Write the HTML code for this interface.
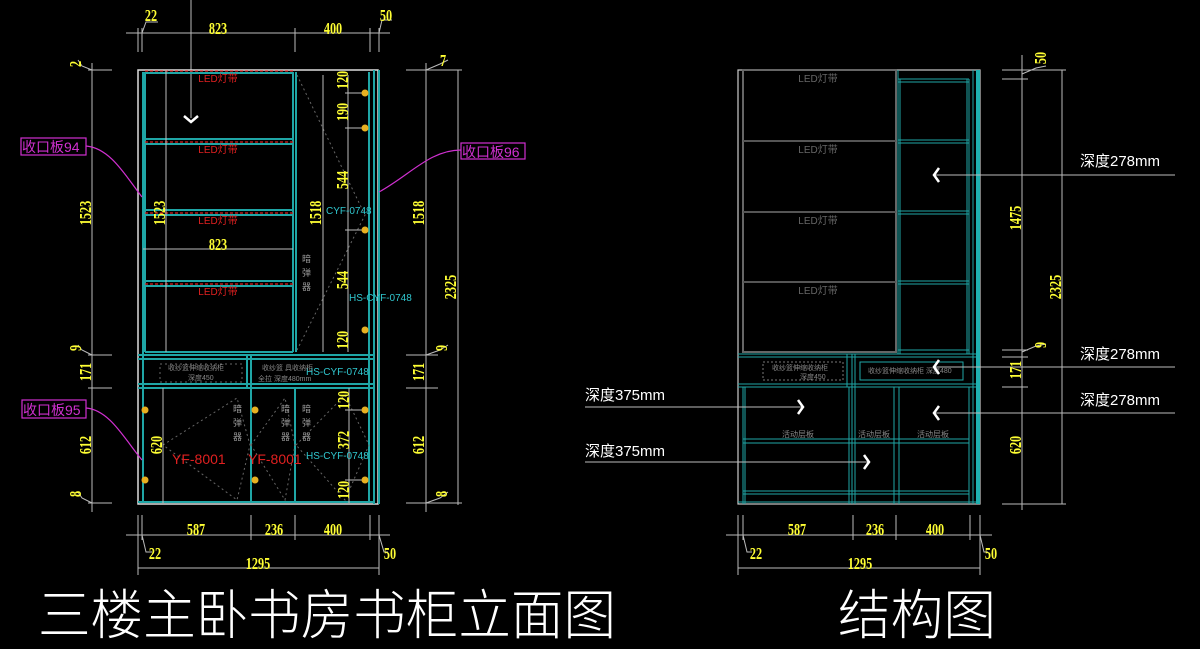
<!DOCTYPE html>
<html><head><meta charset="utf-8"><style>
html,body{margin:0;padding:0;background:#000;width:1200px;height:649px;overflow:hidden}
svg{display:block}
.d{font-family:"Liberation Serif",serif;font-weight:bold;fill:#ffff33;font-size:17px;text-anchor:middle}
.g{stroke:#bbb;stroke-width:1;fill:none}
.t{stroke:#1fa6a6;stroke-width:2;fill:none}
.t1{stroke:#1fa6a6;stroke-width:1;fill:none}
.cn{font-family:"Liberation Sans","Noto Sans CJK SC",sans-serif}
</style></head><body>
<svg width="1200" height="649" viewBox="0 0 1200 649" xmlns="http://www.w3.org/2000/svg">
<!-- ========== LEFT DRAWING ========== -->
<g class="g">
<line x1="126" y1="33" x2="390" y2="33"/>
<line x1="138" y1="28" x2="138" y2="52"/><line x1="142" y1="28" x2="142" y2="52"/>
<line x1="295" y1="28" x2="295" y2="52"/><line x1="370" y1="28" x2="370" y2="52"/><line x1="379" y1="28" x2="379" y2="52"/>
<path d="M142 33 L146 22 L158 22"/><path d="M379 33 L382 20 L392 20"/>
<line x1="191" y1="0" x2="191" y2="118"/>
</g>
<text class="d" transform="translate(151,21) scale(0.72,1)">22</text>
<text class="d" transform="translate(218,34) scale(0.72,1)">823</text>
<text class="d" transform="translate(333,34) scale(0.72,1)">400</text>
<text class="d" transform="translate(386,21) scale(0.72,1)">50</text>
<path d="M184 116 L191 122 L198 116" stroke="#fff" stroke-width="2.5" fill="none"/>
<rect x="138" y="70" width="240" height="434" stroke="#ddd" stroke-width="1.5" fill="none"/>
<g class="t">
<line x1="143" y1="72" x2="143" y2="503"/>
<line x1="145" y1="72" x2="145" y2="352"/>
<line x1="293" y1="72" x2="293" y2="352"/><line x1="296" y1="72" x2="296" y2="352"/>
<line x1="369" y1="72" x2="369" y2="503"/><line x1="374" y1="70" x2="374" y2="504"/><line x1="379" y1="70" x2="379" y2="504"/>
<line x1="145" y1="73" x2="293" y2="73"/>
<line x1="145" y1="139" x2="293" y2="139"/><line x1="145" y1="144" x2="293" y2="144"/>
<line x1="145" y1="210" x2="293" y2="210"/><line x1="145" y1="215" x2="293" y2="215"/>
<line x1="145" y1="281" x2="293" y2="281"/><line x1="145" y1="286" x2="293" y2="286"/>
<line x1="145" y1="352" x2="293" y2="352"/>
<line x1="138" y1="355" x2="374" y2="355"/><line x1="138" y1="359" x2="374" y2="359"/>
<line x1="138" y1="384" x2="374" y2="384"/><line x1="138" y1="388" x2="374" y2="388"/>
<line x1="247" y1="355" x2="247" y2="388"/><line x1="251" y1="355" x2="251" y2="503"/>
<line x1="295" y1="388" x2="295" y2="503"/>
<line x1="138" y1="502" x2="374" y2="502"/>
</g>
<g stroke="#e02020" stroke-width="1.2" stroke-dasharray="3,2">
<line x1="145" y1="71" x2="293" y2="71"/><line x1="145" y1="142" x2="293" y2="142"/><line x1="145" y1="213" x2="293" y2="213"/><line x1="145" y1="284" x2="293" y2="284"/>
</g>
<g class="cn" font-size="10" fill="#e02020" text-anchor="middle">
<text x="218" y="82">LED灯带</text><text x="218" y="153">LED灯带</text><text x="218" y="224">LED灯带</text><text x="218" y="295">LED灯带</text>
</g>
<g stroke="#666" stroke-width="1" stroke-dasharray="2,3" fill="none">
<path d="M297 75 L365 215 L297 350"/>
<path d="M163 445 L237 398 L250 445 L237 500 L163 445"/>
<path d="M251 445 L285 398 L295 445 L285 500 Z"/>
<path d="M296 445 L345 395 L369 445 L345 500 Z"/>
<rect x="160" y="364" width="82" height="18"/>
</g>
<g class="g">
<line x1="166" y1="70" x2="166" y2="352"/>
<line x1="143" y1="249" x2="293" y2="249"/>
<line x1="323" y1="75" x2="323" y2="352"/>
<line x1="348" y1="75" x2="348" y2="352"/>
<line x1="163" y1="388" x2="163" y2="503"/>
<line x1="349" y1="388" x2="349" y2="503"/>
<line x1="345" y1="93" x2="365" y2="93"/><line x1="345" y1="128" x2="365" y2="128"/><line x1="345" y1="230" x2="365" y2="230"/><line x1="345" y1="410" x2="365" y2="410"/><line x1="345" y1="480" x2="365" y2="480"/>
</g>
<g fill="#e8b020">
<circle cx="365" cy="93" r="3.5"/><circle cx="365" cy="128" r="3.5"/><circle cx="365" cy="230" r="3.5"/><circle cx="365" cy="330" r="3.5"/>
<circle cx="145" cy="410" r="3.5"/><circle cx="145" cy="480" r="3.5"/><circle cx="255" cy="410" r="3.5"/><circle cx="255" cy="480" r="3.5"/><circle cx="365" cy="410" r="3.5"/><circle cx="365" cy="480" r="3.5"/>
</g>
<text class="d" transform="translate(165,213) rotate(-90) scale(0.72,1)">1523</text>
<text class="d" transform="translate(218,250) scale(0.72,1)">823</text>
<text class="d" transform="translate(321,213) rotate(-90) scale(0.72,1)">1518</text>
<text class="d" transform="translate(348,80) rotate(-90) scale(0.72,1)">120</text>
<text class="d" transform="translate(348,112) rotate(-90) scale(0.72,1)">190</text>
<text class="d" transform="translate(348,180) rotate(-90) scale(0.72,1)">544</text>
<text class="d" transform="translate(348,280) rotate(-90) scale(0.72,1)">544</text>
<text class="d" transform="translate(348,340) rotate(-90) scale(0.72,1)">120</text>
<text class="d" transform="translate(162,445) rotate(-90) scale(0.72,1)">620</text>
<text class="d" transform="translate(349,400) rotate(-90) scale(0.72,1)">120</text>
<text class="d" transform="translate(349,440) rotate(-90) scale(0.72,1)">372</text>
<text class="d" transform="translate(349,490) rotate(-90) scale(0.72,1)">120</text>
<g class="cn" font-size="10" fill="#30c8d0">
<text x="326" y="214">CYF-0748</text><text x="349" y="301">HS-CYF-0748</text><text x="306" y="375">HS-CYF-0748</text><text x="306" y="459">HS-CYF-0748</text>
</g>
<g class="cn" font-size="7" fill="#888">
<text x="262" y="370">收纱篮 具收纳柜</text><text x="258" y="381">全拉 深度480mm</text>
<text x="168" y="370">收纱篮伸缩收纳柜</text><text x="188" y="380">深度450</text>
</g>
<g class="cn" font-size="9" fill="#999">
<text x="302" y="262">暗</text><text x="302" y="276">弹</text><text x="302" y="290">器</text>
<text x="233" y="412">暗</text><text x="233" y="426">弹</text><text x="233" y="440">器</text>
<text x="281" y="412">暗</text><text x="281" y="426">弹</text><text x="281" y="440">器</text>
<text x="302" y="412">暗</text><text x="302" y="426">弹</text><text x="302" y="440">器</text>
</g>
<g class="cn" font-size="14" fill="#e02020"><text x="172" y="464">YF-8001</text><text x="248" y="464">YF-8001</text></g>
<g class="g">
<line x1="92" y1="63" x2="92" y2="512"/>
<line x1="88" y1="70" x2="112" y2="70"/><line x1="88" y1="355" x2="112" y2="355"/><line x1="88" y1="388" x2="112" y2="388"/><line x1="88" y1="503" x2="112" y2="503"/>
<path d="M92 70 L82 66 L78 60"/><path d="M92 355 L82 350 L78 345"/><path d="M92 503 L82 498 L78 492"/>
<line x1="426" y1="63" x2="426" y2="512"/><line x1="458" y1="70" x2="458" y2="505"/>
<line x1="406" y1="70" x2="462" y2="70"/><line x1="406" y1="355" x2="438" y2="355"/><line x1="406" y1="388" x2="438" y2="388"/><line x1="406" y1="503" x2="462" y2="503"/>
<path d="M426 70 L440 64 L448 60"/><path d="M426 355 L440 350 L448 345"/><path d="M426 503 L440 498 L448 492"/>
</g>
<text class="d" transform="translate(81,64) rotate(-90) scale(0.72,1)">2</text>
<text class="d" transform="translate(91,213) rotate(-90) scale(0.72,1)">1523</text>
<text class="d" transform="translate(81,348) rotate(-90) scale(0.72,1)">9</text>
<text class="d" transform="translate(91,372) rotate(-90) scale(0.72,1)">171</text>
<text class="d" transform="translate(91,445) rotate(-90) scale(0.72,1)">612</text>
<text class="d" transform="translate(81,494) rotate(-90) scale(0.72,1)">8</text>
<text class="d" transform="translate(443,66) scale(0.72,1)">7</text>
<text class="d" transform="translate(424,213) rotate(-90) scale(0.72,1)">1518</text>
<text class="d" transform="translate(456,287) rotate(-90) scale(0.72,1)">2325</text>
<text class="d" transform="translate(447,348) rotate(-90) scale(0.72,1)">9</text>
<text class="d" transform="translate(424,372) rotate(-90) scale(0.72,1)">171</text>
<text class="d" transform="translate(424,445) rotate(-90) scale(0.72,1)">612</text>
<text class="d" transform="translate(447,494) rotate(-90) scale(0.72,1)">8</text>
<g class="g">
<line x1="126" y1="535" x2="390" y2="535"/><line x1="138" y1="568" x2="379" y2="568"/>
<line x1="138" y1="515" x2="138" y2="575"/><line x1="142" y1="515" x2="142" y2="540"/><line x1="251" y1="515" x2="251" y2="540"/><line x1="295" y1="515" x2="295" y2="540"/><line x1="370" y1="515" x2="370" y2="540"/><line x1="379" y1="515" x2="379" y2="575"/>
<path d="M142 535 L146 552 L152 552"/><path d="M379 535 L384 552 L388 552"/>
</g>
<text class="d" transform="translate(196,535) scale(0.72,1)">587</text>
<text class="d" transform="translate(274,535) scale(0.72,1)">236</text>
<text class="d" transform="translate(333,535) scale(0.72,1)">400</text>
<text class="d" transform="translate(155,559) scale(0.72,1)">22</text>
<text class="d" transform="translate(258,569) scale(0.72,1)">1295</text>
<text class="d" transform="translate(390,559) scale(0.72,1)">50</text>
<g stroke="#d030d0" stroke-width="1.2" fill="none">
<rect x="21" y="138" width="65" height="17"/><path d="M86 146 C110 148 125 175 142 197"/>
<rect x="461" y="143" width="64" height="16"/><path d="M461 150 C430 150 410 175 379 192"/>
<rect x="22" y="400" width="64" height="18"/><path d="M86 408 C110 410 125 440 142 460"/>
</g>
<g class="cn" font-size="14" fill="#d030d0"><text x="22" y="152">收口板94</text><text x="462" y="157">收口板96</text><text x="23" y="415">收口板95</text></g>

<!-- ========== RIGHT DRAWING ========== -->
<rect x="738" y="70" width="242" height="434" stroke="#ccc" stroke-width="1.2" fill="none"/>
<rect x="743" y="70" width="153" height="282" stroke="#666" stroke-width="2" fill="none"/>
<g stroke="#555" stroke-width="2"><line x1="743" y1="141" x2="896" y2="141"/><line x1="743" y1="212" x2="896" y2="212"/><line x1="743" y1="282" x2="896" y2="282"/></g>
<g class="cn" font-size="10" fill="#666" text-anchor="middle"><text x="818" y="82">LED灯带</text><text x="818" y="153">LED灯带</text><text x="818" y="224">LED灯带</text><text x="818" y="294">LED灯带</text></g>
<g class="t1">
<line x1="898" y1="70" x2="898" y2="354"/><line x1="900" y1="79" x2="900" y2="354"/><line x1="967" y1="79" x2="967" y2="354"/><line x1="969" y1="79" x2="969" y2="354"/>
<line x1="898" y1="79" x2="969" y2="79"/><line x1="898" y1="82" x2="969" y2="82"/>
<line x1="898" y1="140" x2="969" y2="140"/><line x1="898" y1="143" x2="969" y2="143"/>
<line x1="898" y1="211" x2="969" y2="211"/><line x1="898" y1="214" x2="969" y2="214"/>
<line x1="898" y1="281" x2="969" y2="281"/><line x1="898" y1="284" x2="969" y2="284"/>
<line x1="898" y1="350" x2="969" y2="350"/>
<line x1="738" y1="354" x2="977" y2="354"/><line x1="738" y1="357" x2="977" y2="357"/>
<line x1="738" y1="384" x2="977" y2="384"/><line x1="738" y1="387" x2="977" y2="387"/>
<line x1="847" y1="354" x2="847" y2="387"/><line x1="852" y1="354" x2="852" y2="504"/><line x1="855" y1="354" x2="855" y2="504"/>
<rect x="860" y="362" width="103" height="18"/>
<line x1="743" y1="387" x2="743" y2="504"/><line x1="745" y1="387" x2="745" y2="504"/>
<line x1="849" y1="387" x2="849" y2="504"/>
<line x1="894" y1="387" x2="894" y2="504"/><line x1="899" y1="387" x2="899" y2="504"/>
<line x1="969" y1="387" x2="969" y2="504"/><line x1="973" y1="70" x2="973" y2="504"/>
<line x1="743" y1="439" x2="969" y2="439"/><line x1="743" y1="443" x2="969" y2="443"/>
<line x1="743" y1="491" x2="969" y2="491"/><line x1="743" y1="494" x2="969" y2="494"/>
<line x1="738" y1="502" x2="977" y2="502"/>
</g>
<line x1="978" y1="70" x2="978" y2="504" stroke="#1fb0b0" stroke-width="4"/>
<rect x="763" y="362" width="80" height="18" stroke="#777" stroke-dasharray="2,2" fill="none"/>
<g class="cn" font-size="7" fill="#888">
<text x="772" y="370">收纱篮伸缩收纳柜</text><text x="800" y="379">深度450</text><text x="868" y="373">收纱篮伸缩收纳柜 深度480</text>
</g>
<g class="cn" font-size="8" fill="#888"><text x="782" y="437">活动层板</text><text x="858" y="437">活动层板</text><text x="917" y="437">活动层板</text></g>
<g stroke="#bbb" stroke-width="1">
<line x1="935" y1="175" x2="1175" y2="175"/><line x1="935" y1="367" x2="1175" y2="367"/><line x1="935" y1="413" x2="1175" y2="413"/>
<line x1="585" y1="407" x2="802" y2="407"/><line x1="585" y1="462" x2="868" y2="462"/>
</g>
<g stroke="#fff" stroke-width="2.5" fill="none">
<path d="M939 168 L934 175 L939 182"/><path d="M939 360 L934 367 L939 374"/><path d="M939 406 L934 413 L939 420"/>
<path d="M798 400 L803 407 L798 414"/><path d="M864 455 L869 462 L864 469"/>
</g>
<g class="cn" font-size="15" fill="#fff">
<text x="1080" y="166">深度278mm</text><text x="1080" y="359">深度278mm</text><text x="1080" y="405">深度278mm</text>
<text x="585" y="400">深度375mm</text><text x="585" y="456">深度375mm</text>
</g>
<g class="g">
<line x1="1022" y1="55" x2="1022" y2="510"/><line x1="1062" y1="70" x2="1062" y2="504"/>
<line x1="1002" y1="70" x2="1066" y2="70"/><line x1="1002" y1="79" x2="1028" y2="79"/><line x1="1002" y1="350" x2="1028" y2="350"/><line x1="1002" y1="357" x2="1028" y2="357"/><line x1="1002" y1="387" x2="1028" y2="387"/><line x1="1002" y1="504" x2="1066" y2="504"/>
<path d="M1022 74 L1036 68 L1046 66"/><path d="M1022 352 L1036 346 L1046 344"/>
</g>
<text class="d" transform="translate(1046,58) rotate(-90) scale(0.72,1)">50</text>
<text class="d" transform="translate(1021,218) rotate(-90) scale(0.72,1)">1475</text>
<text class="d" transform="translate(1061,287) rotate(-90) scale(0.72,1)">2325</text>
<text class="d" transform="translate(1046,345) rotate(-90) scale(0.72,1)">9</text>
<text class="d" transform="translate(1021,370) rotate(-90) scale(0.72,1)">171</text>
<text class="d" transform="translate(1021,445) rotate(-90) scale(0.72,1)">620</text>
<g class="g">
<line x1="726" y1="535" x2="992" y2="535"/><line x1="738" y1="568" x2="980" y2="568"/>
<line x1="738" y1="515" x2="738" y2="575"/><line x1="743" y1="515" x2="743" y2="540"/><line x1="853" y1="515" x2="853" y2="540"/><line x1="896" y1="515" x2="896" y2="540"/><line x1="970" y1="515" x2="970" y2="540"/><line x1="980" y1="515" x2="980" y2="575"/>
<path d="M743 535 L747 552 L752 552"/><path d="M980 535 L984 552 L988 552"/>
</g>
<text class="d" transform="translate(797,535) scale(0.72,1)">587</text>
<text class="d" transform="translate(875,535) scale(0.72,1)">236</text>
<text class="d" transform="translate(935,535) scale(0.72,1)">400</text>
<text class="d" transform="translate(756,559) scale(0.72,1)">22</text>
<text class="d" transform="translate(860,569) scale(0.72,1)">1295</text>
<text class="d" transform="translate(991,559) scale(0.72,1)">50</text>

<g font-family="'Noto Sans CJK SC','WenQuanYi Zen Hei',sans-serif" font-weight="300" font-size="54" fill="#fff">
<text x="38" y="634" textLength="578" lengthAdjust="spacingAndGlyphs">三楼主卧书房书柜立面图</text>
<text x="838" y="634" textLength="158" lengthAdjust="spacingAndGlyphs">结构图</text>
</g>
</svg>
</body></html>
